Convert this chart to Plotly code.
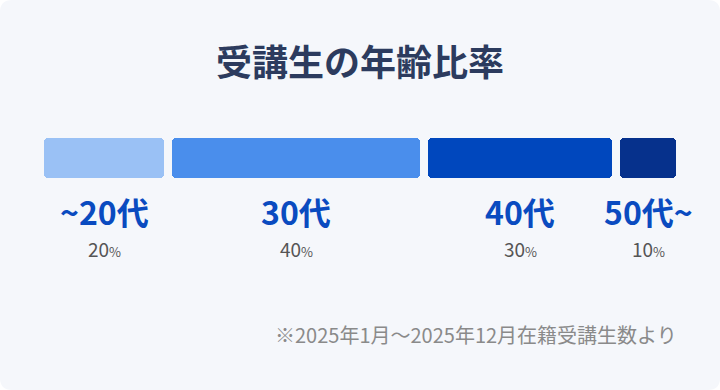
import plotly.graph_objects as go

categories = ["~20代", "30代", "40代", "50代~"]
percents = [20, 40, 30, 10]
colors = ["#9ac1f5", "#4a8eec", "#0047bd", "#06318c"]
title_text = "受講生の年齢比率"
note_text = "※2025年1月～2025年12月在籍受講生数より"

W, H = 720, 390
ML, MR, MT, MB = 44, 36, 138, 212
PW, PH = W - ML - MR, H - MT - MB
GAP = 8 / PW * 100  # gap between segments, in percent units


def py(p):  # pixel y -> paper y
    return (H - MB - p) / PH


def px(p):  # pixel x -> paper x
    return (p - ML) / PW


fig = go.Figure()

starts = []
acc = 0
for v in percents:
    starts.append(acc)
    acc += v

for cat, v, s, c in zip(categories, percents, starts, colors):
    seg = v - GAP
    center = s + seg / 2
    d = seg / 4
    # two overlapping halves so that both outer ends get rounded corners
    fig.add_trace(go.Bar(
        x=[seg / 2 + d], y=[0], base=[center - d], orientation="h",
        width=1, marker=dict(color=c, line=dict(width=0)),
        hoverinfo="skip", showlegend=False,
    ))
    fig.add_trace(go.Bar(
        x=[-(seg / 2 + d)], y=[0], base=[center + d], orientation="h",
        width=1, marker=dict(color=c, line=dict(width=0)),
        hoverinfo="skip", showlegend=False,
    ))
    fig.add_annotation(x=center, xref="x", y=py(211), yref="paper",
                       text=f"<b>{cat}</b>", showarrow=False,
                       font=dict(size=32, color="#0a4bc0",
                                 family="Noto Sans CJK JP"),
                       xanchor="center", yanchor="middle")
    fig.add_annotation(x=center, xref="x", y=py(248), yref="paper",
                       text=f"{v}<span style='font-size:13px'>%</span>",
                       showarrow=False,
                       font=dict(size=19, color="#555555",
                                 family="Noto Sans CJK JP"),
                       xanchor="center", yanchor="middle")

fig.add_annotation(x=px(360), xref="paper", y=py(60), yref="paper",
                   text=f"<b>{title_text}</b>", showarrow=False,
                   font=dict(size=36, color="#2c3b5e", family="Noto Sans CJK JP"),
                   xanchor="center", yanchor="middle")
fig.add_annotation(x=px(679), xref="paper", y=py(334), yref="paper",
                   text=note_text, showarrow=False,
                   font=dict(size=20, color="#8a8a8a", family="Noto Sans CJK JP"),
                   xanchor="right", yanchor="middle")

# card background with rounded corners
r = 12
x0, x1, y0, y1 = 0, W, 0, H
def P(xp, yp):
    return f"{px(xp)},{py(yp)}"
path = (f"M {P(x0 + r, y0)} L {P(x1 - r, y0)} Q {P(x1, y0)} {P(x1, y0 + r)} "
        f"L {P(x1, y1 - r)} Q {P(x1, y1)} {P(x1 - r, y1)} "
        f"L {P(x0 + r, y1)} Q {P(x0, y1)} {P(x0, y1 - r)} "
        f"L {P(x0, y0 + r)} Q {P(x0, y0)} {P(x0 + r, y0)} Z")
fig.add_shape(type="path", path=path, xref="paper", yref="paper",
              fillcolor="#f5f7fb", line=dict(width=0), layer="below")

fig.update_layout(
    width=W, height=H,
    margin=dict(l=ML, r=MR, t=MT, b=MB, pad=0),
    paper_bgcolor="#ffffff", plot_bgcolor="rgba(0,0,0,0)",
    barmode="overlay", barcornerradius=4, bargap=0,
    xaxis=dict(range=[0, 100], visible=False, fixedrange=True),
    yaxis=dict(range=[-0.5, 0.5], visible=False, fixedrange=True),
    showlegend=False,
)

fig.write_html("out.html")
